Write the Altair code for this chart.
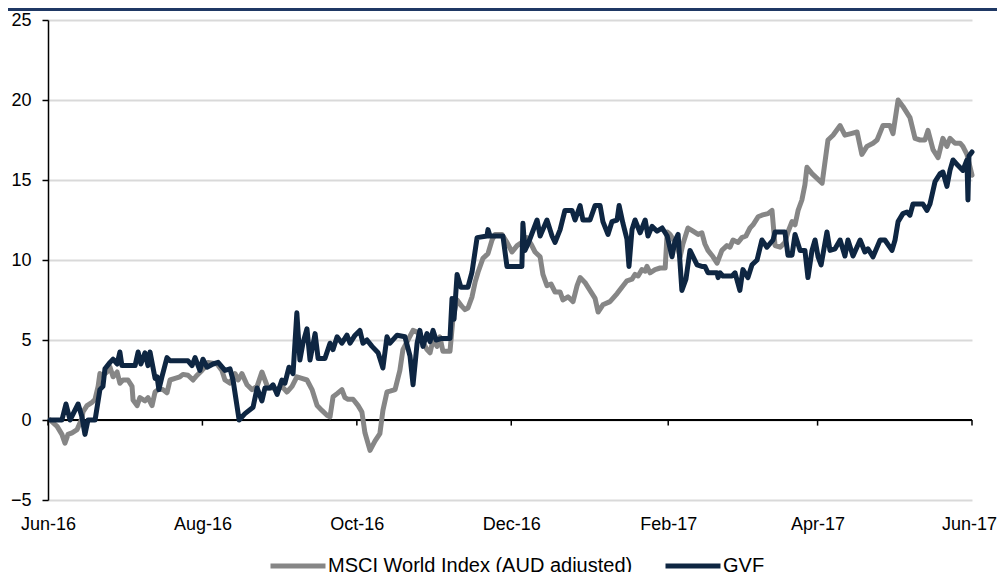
import altair as alt
import pandas as pd

# ---- data (days since 1 Jun 2016, cumulative return %) ----
gvf_day = [0.8, 5.5, 7.1, 8.7, 11.9, 13.4, 14.6, 15.8, 18.6, 20.5, 21.7, 22.5, 24.5, 25.7, 27.3, 28.4, 29.2,
           34.4, 35.6, 36.7, 38.3, 39.5, 40.3, 42.3, 43.1, 43.8, 45.0, 47.0, 48.2, 55.3, 56.9, 58.1, 60.0,
           61.2, 62.8, 65.2, 67.2, 69.9, 71.9, 73.1, 75.5, 77.8, 81.0, 82.6, 84.5, 85.7, 87.7, 88.9, 90.5,
           92.4, 93.6, 95.2, 96.8, 98.3, 99.5, 100.7, 102.3, 103.5, 105.5, 106.7, 109.4, 111.4, 112.6, 114.2,
           116.1, 118.1, 119.3, 121.3, 123.2, 124.4, 126.0, 128.0, 130.4, 132.3, 133.9, 135.1, 137.9, 141.0,
           143.0, 144.2, 145.8, 146.9, 148.1, 149.7, 150.9, 152.1, 153.3, 155.6, 158.8, 159.6, 160.4, 161.6,
           163.1, 165.9, 167.5, 169.5, 173.4, 173.8, 174.6, 179.7, 181.3, 187.2, 187.6, 188.4, 189.6, 193.2,
           194.4, 197.1, 199.1, 200.3, 202.3, 204.2, 207.0, 208.2, 210.2, 211.3, 214.1, 216.1, 218.1, 219.2,
           221.2, 222.8, 224.8, 225.6, 227.1, 228.7, 229.5, 230.7, 231.9, 233.9, 235.9, 237.0, 238.6, 240.6,
           242.6, 244.6, 246.5, 247.7, 248.9, 250.4, 252.0, 253.6, 256.4, 258.3, 259.5, 260.7, 264.3, 264.7,
           265.5, 266.6, 270.2, 271.4, 273.3, 274.5, 276.5, 278.1, 280.1, 282.0, 284.0, 286.4, 287.2, 291.1,
           292.3, 293.9, 295.1, 297.1, 299.0, 300.2, 301.8, 303.0, 304.2, 305.4, 307.7, 308.9, 310.9, 312.9,
           314.8, 316.0, 318.0, 320.8, 322.7, 323.9, 325.9, 328.7, 330.6, 333.4, 334.6, 335.8, 337.7, 339.3,
           340.5, 341.7, 345.6, 347.2, 348.4, 350.4, 352.4, 353.5, 355.1, 356.3, 357.5, 359.5, 361.4, 363.0,
           363.4, 363.8, 365.0]
gvf_val = [0, 0, 1.0, 0, 1.0, 0.2, -0.9, 0, 0, 1.9, 2.1, 3.2, 3.6, 3.8, 3.5, 4.25, 3.4,
           3.4, 4.25, 3.5, 4.2, 3.4, 4.25, 2.6, 2.7, 1.9, 2.7, 3.9, 3.7, 3.7, 3.4, 3.9, 3.1,
           3.8, 3.3, 3.5, 3.6, 3.1, 3.2, 2.5, 0, 0.4, 0.8, 2.0, 1.2, 2.0, 2.0, 2.2, 1.6,
           2.5, 2.3, 3.3, 2.9, 6.7, 3.75, 4.8, 5.7, 3.75, 5.4, 3.85, 3.85, 4.8, 4.4, 5.2,
           4.8, 5.3, 4.8, 5.3, 5.6, 4.8, 5.0, 4.6, 4.2, 3.25, 5.2, 4.8, 5.3, 5.2,
           4.0, 2.2, 4.8, 5.6, 4.6, 5.4, 4.9, 5.6, 5.0, 5.1, 5.1, 7.6, 6.3, 9.1,
           8.3, 8.3, 9.25, 11.4, 11.5, 11.9, 11.5, 11.5, 9.6, 9.6, 12.3, 10.6, 11.0, 12.5,
           11.5, 12.5, 11.5, 11.1, 11.9, 13.1, 13.1, 12.5, 13.4, 12.5, 12.5, 13.4, 13.4, 12.4,
           11.6, 12.4, 12.5, 13.4, 12.3, 11.3, 9.6, 11.9, 12.5, 11.7, 12.5, 11.5, 12.1, 11.8,
           12.0, 11.5, 10.2, 11.2, 11.6, 8.1, 8.8, 10.6, 9.7, 9.6, 9.6, 9.2, 9.2, 8.9,
           9.2, 9.0, 9.0, 9.2, 8.1, 9.4, 8.9, 9.7, 10.0, 11.25, 10.8, 11.25, 11.75, 11.75,
           10.3, 10.3, 11.6, 10.6, 10.6, 8.9, 10.6, 11.25, 10.2, 9.7, 11.75, 10.6, 10.7, 11.25,
           10.25, 11.25, 10.25, 11.25, 10.5, 10.7, 10.2, 11.25, 11.25, 10.6, 11.25, 12.4, 12.9, 13.0,
           12.8, 13.5, 13.5, 13.1, 13.5, 14.9, 15.4, 15.5, 14.6, 15.6, 16.25, 15.9, 15.6, 16.25,
           13.75, 16.5, 16.75]

msci_day = [0.8, 3.6, 5.5, 6.7, 7.9, 9.5, 11.5, 13.4, 13.8, 15.4, 17.4, 18.6, 19.8, 20.5, 21.7, 23.3,
            24.5, 25.7, 27.3, 28.4, 29.6, 31.6, 33.2, 33.6, 35.2, 36.3, 38.3, 39.5, 41.1, 42.3, 43.5, 45.4,
            47.0, 48.2, 50.2, 52.1, 53.3, 55.3, 57.3, 58.9, 60.8, 62.0, 63.2, 66.8, 68.7, 69.9, 71.9, 73.9,
            75.1, 76.6, 78.6, 80.6, 82.6, 84.5, 85.7, 86.9, 88.9, 90.9, 92.4, 94.4, 96.4, 98.3, 100.3, 102.3,
            104.3, 106.3, 108.2, 110.2, 111.4, 112.6, 114.2, 116.1, 117.3, 118.5, 120.5, 122.5, 124.0, 125.2,
            127.2, 129.2, 131.1, 132.3, 133.9, 135.1, 137.1, 139.0, 140.2, 142.2, 144.2, 145.8, 147.7, 149.7,
            150.9, 152.1, 153.7, 154.8, 156.0, 158.8, 160.0, 161.6, 163.5, 164.7, 165.9, 167.5, 168.7, 169.9,
            171.8, 173.8, 175.4, 176.6, 179.3, 181.3, 183.3, 185.3, 187.2, 189.2, 190.8, 192.4, 194.4, 195.5,
            197.1, 198.7, 200.3, 202.3, 203.4, 205.4, 207.4, 209.0, 210.2, 212.1, 214.1, 216.1, 217.3, 219.2,
            222.0, 224.8, 226.7, 228.7, 230.7, 231.9, 233.1, 234.6, 235.9, 236.6, 237.8, 239.8, 241.8, 243.8,
            244.6, 245.7, 248.5, 249.7, 250.8, 252.8, 254.8, 256.8, 258.3, 259.5, 260.7, 262.7, 264.3, 266.2,
            268.2, 269.4, 270.6, 272.6, 274.1, 275.7, 277.3, 278.5, 280.5, 282.0, 284.4, 286.0, 287.2, 289.2,
            291.1, 292.3, 293.9, 295.1, 296.3, 297.8, 299.0, 299.8, 301.8, 303.8, 305.8, 308.1, 310.1, 312.9,
            314.8, 317.2, 319.6, 321.5, 323.5, 325.9, 327.5, 329.8, 332.6, 333.8, 335.8, 337.7, 340.5, 342.5,
            344.5, 346.4, 347.6, 349.6, 351.6, 353.5, 355.1, 356.3, 358.3, 360.3, 361.4, 363.0, 365.0]
msci_val = [0, -0.4, -0.9, -1.45, -0.9, -0.8, -0.6, 0.1, 0.5, 0.9, 1.1, 1.3, 2.1, 2.9, 2.8, 3.0,
            3.3, 2.7, 3.0, 2.3, 2.5, 2.5, 2.1, 1.25, 0.9, 1.4, 1.2, 1.4, 0.9, 1.75, 1.9, 1.9,
            1.7, 2.5, 2.6, 2.7, 2.85, 2.8, 2.5, 2.8, 3.1, 3.3, 3.6, 3.5, 3.1, 2.5, 2.3, 2.9,
            2.5, 2.9, 2.2, 1.9, 2.1, 3.0, 2.5, 2.0, 2.0, 1.9, 2.1, 1.75, 2.1, 2.7, 2.6, 2.5,
            1.9, 0.9, 0.6, 0.3, 0.2, 1.45, 1.65, 1.9, 1.4, 1.3, 1.3, 0.9, 0.5, -0.8,
            -1.9, -1.3, -0.85, 0.6, 1.75, 1.8, 1.9, 3.1, 4.4, 5.0, 5.6, 5.5, 5.0, 4.4,
            4.2, 5.0, 4.6, 5.2, 4.3, 4.3, 6.4, 7.5, 7.1, 6.9, 7.0, 7.7, 8.6, 9.25,
            10.1, 10.4, 11.25, 11.6, 11.6, 11.1, 10.5, 10.9, 11.1, 11.4, 11.0, 10.5, 10.2, 9.1,
            8.4, 8.5, 8.0, 8.0, 7.5, 7.7, 7.4, 8.4, 8.9, 8.6, 8.1, 7.6, 6.75, 7.2,
            7.4, 7.9, 8.3, 8.7, 8.8, 9.1, 9.0, 9.4, 9.3, 9.6, 9.2, 9.4, 9.5, 9.5,
            11.75, 11.6, 10.9, 10.2, 11.0, 12.0, 11.8, 11.6, 11.7, 11.0, 10.6, 10.2, 9.8, 10.6,
            10.9, 10.8, 11.25, 11.1, 11.4, 11.5, 12.0, 12.2, 12.7, 12.8, 12.9, 13.1, 10.9, 10.8,
            11.1, 11.75, 12.4, 12.2, 13.1, 13.75, 14.7, 15.8, 15.4, 15.1, 14.8, 17.5, 17.8, 18.4,
            17.8, 17.9, 18.0, 16.6, 17.1, 17.3, 17.5, 18.4, 18.4, 17.9, 20.0, 19.6, 18.9, 17.6,
            17.5, 17.5, 18.1, 16.9, 16.4, 17.6, 17.1, 17.6, 17.3, 17.3, 17.1, 16.6, 15.3]

series_names = ["MSCI World Index (AUD adjusted)", "GVF"]
series_colors = ["#868686", "#0e2642"]
tick_dates = ["2016-06-01", "2016-08-01", "2016-10-01", "2016-12-01", "2017-02-01", "2017-04-01", "2017-06-01"]
y_ticks = [-5, 0, 5, 10, 15, 20, 25]

start = pd.Timestamp("2016-06-01")


def frame(days, vals, name):
    return pd.DataFrame({
        "date": start + pd.to_timedelta(days, unit="D"),
        "value": vals,
        "series": name,
    })


msci_df = frame(msci_day, msci_val, series_names[0])
gvf_df = frame(gvf_day, gvf_val, series_names[1])
ticks_df = pd.DataFrame({"date": pd.to_datetime(tick_dates)})

FONT = "Liberation Sans"
x_dom = [alt.DateTime(year=2016, month=6, date=1), alt.DateTime(year=2017, month=6, date=1)]
x_vals = [alt.DateTime(year=int(d[:4]), month=int(d[5:7]), date=1) for d in tick_dates]

x_enc = alt.X("date:T", scale=alt.Scale(domain=x_dom),
              axis=alt.Axis(values=x_vals, format="%b-%y", title=None, grid=False, domain=False,
                            ticks=False, labelFontSize=18, labelPadding=15, labelColor="black",
                            labelFont=FONT, labelFlush=False,
                            labelOffset={"condition": {"test": "year(datum.value) == 2017 && month(datum.value) == 5",
                                                       "value": -3}, "value": 0}))
y_enc = alt.Y("value:Q", scale=alt.Scale(domain=[-5, 25], nice=False),
              axis=alt.Axis(values=y_ticks, title=None, grid=True, gridColor="#d9d9d9", gridWidth=2,
                            domainColor="black", domainWidth=1.5, tickColor="black", tickSize=6,
                            tickWidth=1.5, labelFontSize=18, labelPadding=11, labelColor="black",
                            labelFont=FONT))
color_enc = alt.Color("series:N", scale=alt.Scale(domain=series_names, range=series_colors),
                      legend=alt.Legend(title=None, orient="none", legendX=220, legendY=516,
                                        direction="horizontal", symbolType="stroke", symbolSize=3025,
                                        symbolStrokeWidth=5, labelFontSize=20, labelFont=FONT,
                                        labelColor="black", labelOffset=0, columnPadding=22,
                                        labelLimit=400))

msci_line = alt.Chart(msci_df).mark_line(strokeWidth=5, strokeJoin="round", strokeCap="round").encode(
    x=x_enc, y=y_enc, color=color_enc)
gvf_line = alt.Chart(gvf_df).mark_line(strokeWidth=5, strokeJoin="round", strokeCap="round").encode(
    x=x_enc, y=y_enc, color=color_enc)

zero_rule = alt.Chart(ticks_df).mark_rule(color="black", strokeWidth=1.8).encode(
    y=alt.datum(0), x=alt.value(0), x2=alt.value(924))
zero_ticks = alt.Chart(ticks_df).mark_rule(color="black", strokeWidth=1.5).encode(
    x=alt.X("date:T"), y=alt.datum(0), y2=alt.datum(-0.35))
top_rule = alt.Chart(ticks_df).mark_rule(color="#1f3864", strokeWidth=3).encode(
    x=alt.value(-40), x2=alt.value(957), y=alt.value(-10.5))

chart = alt.layer(zero_rule, msci_line, gvf_line, zero_ticks, top_rule).properties(
    width=924, height=480,
    autosize=alt.AutoSizeParams(type="none"),
    padding={"left": 40, "top": 12, "right": 25, "bottom": 72},
).configure(font=FONT).configure_view(stroke=None)

chart.save("out.html", embed_options={"renderer": "svg", "actions": False})
